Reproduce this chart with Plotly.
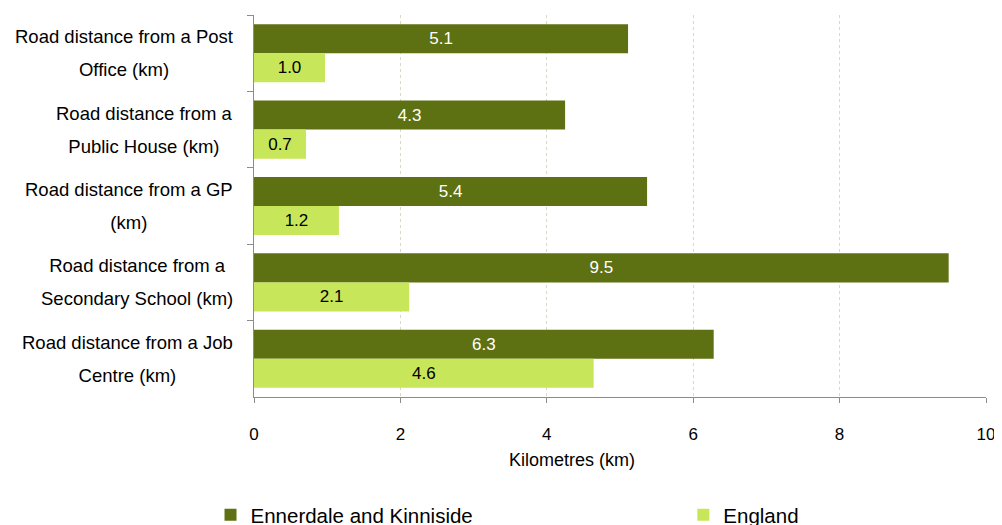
import plotly.graph_objects as go

# category labels (two lines each, as in the source chart)
label_top = ["Road distance from a Post", "Road distance from a", "Road distance from a GP",
             "Road distance from a", "Road distance from a Job"]
label_bottom = ["Office (km)", "Public House (km)", "(km)",
                "Secondary School (km)", "Centre (km)"]
categories = [a + " " + b for a, b in zip(label_top, label_bottom)]

ennerdale = [5.11, 4.25, 5.37, 9.49, 6.28]
england = [0.97, 0.71, 1.16, 2.12, 4.64]

dark = "#5E7112"
light = "#C8E65A"
font = "Liberation Sans, Arial, sans-serif"

fig = go.Figure()
fig.add_trace(go.Bar(
    y=categories, x=ennerdale, orientation="h", name="Ennerdale and Kinniside",
    marker=dict(color=dark, line=dict(width=0)), legend="legend",
    texttemplate="%{x:.1f}", textposition="inside", insidetextanchor="middle",
    textangle=0, textfont=dict(color="white", size=17, family=font),
))
fig.add_trace(go.Bar(
    y=categories, x=england, orientation="h", name="England",
    marker=dict(color=light, line=dict(width=0)), legend="legend2",
    texttemplate="%{x:.1f}", textposition="inside", insidetextanchor="middle",
    textangle=0, textfont=dict(color="black", size=17, family=font),
))

# two-line category labels, centred; big base size gives the wide line gap,
# the spans set the visible glyph size
for cat, top, bot in zip(categories, label_top, label_bottom):
    fig.add_annotation(
        xref="paper", yref="y", x=-0.026, y=cat, xanchor="right", yanchor="middle",
        align="center", showarrow=False,
        text=f"<span style='font-size:18.5px'>{top}</span><br>"
             f"<span style='font-size:18.5px'>{bot}</span>",
        font=dict(size=25.4, family=font, color="black"),
    )

fig.add_annotation(
    xref="paper", yref="paper", x=0.434, y=-0.165, xanchor="center", yanchor="middle",
    showarrow=False, text="Kilometres (km)", font=dict(size=18, family=font, color="black"),
)

leg = dict(orientation="h", y=-0.309, yanchor="middle", xanchor="left",
           font=dict(size=20.5, family=font), bgcolor="rgba(0,0,0,0)")
fig.update_layout(
    width=1002, height=525,
    margin=dict(l=246, r=24, t=7, b=136, autoexpand=False),
    paper_bgcolor="white", plot_bgcolor="white",
    barmode="group", bargap=0.24, bargroupgap=0,
    font=dict(family=font, size=17, color="black"),
    showlegend=True,
    legend=dict(leg, x=-0.0594),
    legend2=dict(leg, x=0.5865),
)
fig.update_xaxes(
    range=[0, 10], dtick=2, showgrid=True, gridcolor="#DDD8C4", griddash="dot",
    gridwidth=1, showline=True, linecolor="#8C8C8C", linewidth=1,
    ticks="outside", ticklen=5, tickcolor="#8C8C8C", zeroline=False,
    tickfont=dict(size=17, family=font), ticklabelstandoff=17,
)
fig.update_yaxes(
    autorange="reversed", showticklabels=False, showline=True, linecolor="#8C8C8C",
    linewidth=1, ticks="outside", ticklen=6, tickcolor="#8C8C8C", tickson="boundaries",
    showgrid=False,
)

fig.write_html("out.html")
